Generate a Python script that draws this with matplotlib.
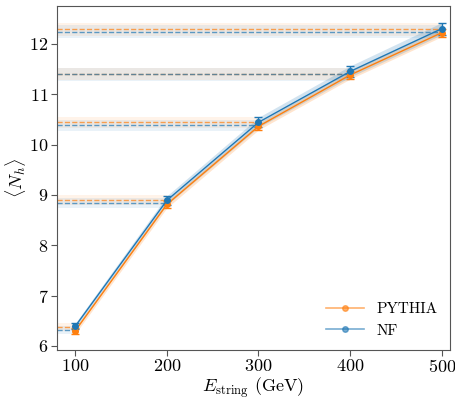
import numpy as np
from matplotlib import pyplot as plt
from matplotlib.lines import Line2D

plt.rcParams['font.family'] = 'serif'
plt.rcParams['font.serif'] = ['cmr10', 'DejaVu Serif']
plt.rcParams['mathtext.fontset'] = 'cm'
plt.rcParams['axes.formatter.use_mathtext'] = True

energies = np.array([100, 200, 300, 400, 500])

# markers / errorbars
pythia_mean = np.array([6.30, 8.81, 10.36, 11.38, 12.22])
pythia_err = np.array([0.06, 0.07, 0.07, 0.08, 0.08])
nf_mean = np.array([6.39, 8.89, 10.44, 11.45, 12.30])
nf_err = np.array([0.06, 0.09, 0.10, 0.11, 0.12])

# dashed reference levels
pythia_ref = np.array([6.37, 8.89, 10.44, 11.40, 12.29])
nf_ref = np.array([6.32, 8.83, 10.38, 11.39, 12.24])
ref_err = np.array([0.08, 0.10, 0.11, 0.12, 0.13])

c_py = '#ff7f0e'
c_nf = '#1f77b4'
xmin, xmax = 80, 509

fig, ax = plt.subplots(figsize=(4.55, 4.0), dpi=100)
fig.subplots_adjust(left=0.125, right=0.989, bottom=0.125, top=0.985)

for ref, col in [(pythia_ref, c_py), (nf_ref, c_nf)]:
  for e, r, s in zip(energies, ref, ref_err):
    ax.fill_between([xmin, e], r - s, r + s, color=col, alpha=0.09, lw=0)
    ax.plot([xmin, e], [r, r], ls='--', color=col, lw=1.0, alpha=0.7)

for m, s, col in [(pythia_mean, pythia_err, c_py), (nf_mean, nf_err, c_nf)]:
  ax.fill_between(energies, m - s, m + s, color=col, alpha=0.2, lw=0)

ax.errorbar(energies, pythia_mean, yerr=pythia_err, color=c_py, marker='o',
            markersize=4, capsize=3, lw=1.0, elinewidth=1.0)
ax.errorbar(energies, nf_mean, yerr=nf_err, color=c_nf, marker='o',
            markersize=4, capsize=3, lw=1.0, elinewidth=1.0)

ax.set_xlim(xmin, xmax)
ax.set_ylim(5.92, 12.75)
ax.set_xticks([100, 200, 300, 400, 500])
ax.set_yticks([6, 7, 8, 9, 10, 11, 12])
ax.tick_params(labelsize=13, color='#555555', length=4, pad=2)
for sp in ax.spines.values():
  sp.set_color('#555555')
ax.set_xlabel(r'$E_{\mathrm{string}}$ (GeV)', fontsize=13, labelpad=0)
ax.set_ylabel(r'$\langle N_h \rangle$', fontsize=13, labelpad=1)

handles = [Line2D([], [], color=c_py, marker='o', markersize=4, lw=1.2, alpha=0.6),
           Line2D([], [], color=c_nf, marker='o', markersize=4, lw=1.2, alpha=0.6)]
ax.legend(handles, ['PYTHIA', 'NF'], loc='lower right', frameon=False,
          fontsize=11, handlelength=2.5, borderaxespad=0.4)

fig.savefig('out.png', dpi=100)
